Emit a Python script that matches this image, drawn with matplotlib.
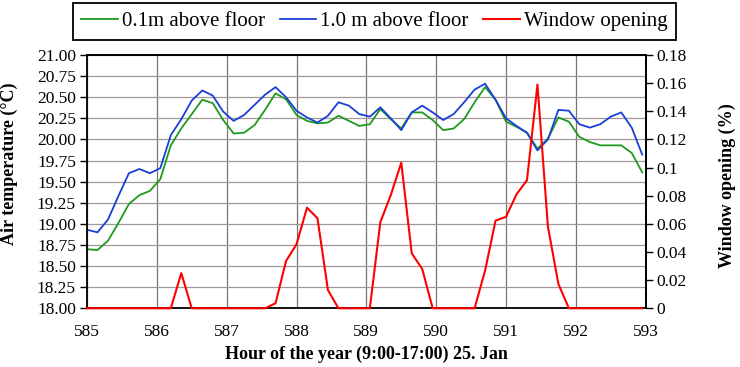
import matplotlib
matplotlib.use("Agg")
import matplotlib.pyplot as plt
from matplotlib.ticker import MultipleLocator, FuncFormatter

hours = [585.00, 585.15, 585.30, 585.45, 585.60, 585.75, 585.90, 586.05, 586.20, 586.35,
         586.50, 586.65, 586.80, 586.95, 587.10, 587.25, 587.40, 587.55, 587.70, 587.85,
         588.00, 588.15, 588.30, 588.45, 588.60, 588.75, 588.90, 589.05, 589.20, 589.35,
         589.50, 589.65, 589.80, 589.95, 590.10, 590.25, 590.40, 590.55, 590.70, 590.85,
         591.00, 591.15, 591.30, 591.45, 591.60, 591.75, 591.90, 592.05, 592.20, 592.35,
         592.50, 592.65, 592.80, 592.95]

t_high = [18.93, 18.90, 19.05, 19.33, 19.60, 19.65, 19.60, 19.66, 20.05, 20.24,
          20.46, 20.58, 20.52, 20.33, 20.22, 20.29, 20.41, 20.53, 20.62, 20.50,
          20.34, 20.26, 20.20, 20.28, 20.44, 20.40, 20.30, 20.27, 20.38, 20.25,
          20.11, 20.32, 20.40, 20.32, 20.23, 20.30, 20.44, 20.59, 20.66, 20.47,
          20.25, 20.16, 20.08, 19.87, 20.00, 20.35, 20.34, 20.18, 20.14, 20.18,
          20.27, 20.32, 20.14, 19.82]

t_low = [18.70, 18.69, 18.80, 19.01, 19.235, 19.34, 19.39, 19.53, 19.93, 20.13,
         20.30, 20.47, 20.43, 20.23, 20.07, 20.08, 20.17, 20.35, 20.546, 20.475,
         20.29, 20.22, 20.19, 20.20, 20.28, 20.22, 20.16, 20.18, 20.36, 20.24,
         20.13, 20.32, 20.32, 20.23, 20.11, 20.13, 20.24, 20.44, 20.62, 20.47,
         20.21, 20.15, 20.08, 19.89, 20.01, 20.26, 20.21, 20.03, 19.97, 19.93,
         19.93, 19.93, 19.84, 19.61]

window = [0, 0, 0, 0, 0, 0, 0, 0, 0, 0.025,
          0, 0, 0, 0, 0, 0, 0, 0, 0.0036, 0.0336,
          0.0455, 0.0715, 0.064, 0.013, 0, 0, 0, 0, 0.0611, 0.0805,
          0.1035, 0.039, 0.028, 0, 0, 0, 0, 0, 0.0268, 0.0623,
          0.065, 0.081, 0.091, 0.159, 0.058, 0.0173, 0, 0, 0, 0,
          0, 0, 0, 0]

labels = ["0.1m above floor", "1.0 m above floor", "Window opening"]

plt.rcParams['font.family'] = ['Liberation Serif', 'DejaVu Serif']

W, H = 740, 367
fig = plt.figure(figsize=(W / 100, H / 100), dpi=100)
L, R, T, B = 87, 645.7, 55, 308.3
ax = fig.add_axes([L / W, 1 - B / H, (R - L) / W, (B - T) / H])
ax2 = ax.twinx()

ax.set_xlim(585, 593)
ax.set_ylim(18, 21)
ax2.set_ylim(0, 0.18)

ax.yaxis.set_major_locator(MultipleLocator(0.25))
ax.yaxis.set_major_formatter(FuncFormatter(lambda v, p: f"{v:.2f}"))
ax.xaxis.set_major_locator(MultipleLocator(1))
ax.xaxis.set_major_formatter(FuncFormatter(lambda v, p: f"{v:.0f}"))
ax2.yaxis.set_major_locator(MultipleLocator(0.02))
ax2.yaxis.set_major_formatter(FuncFormatter(lambda v, p: f"{v:g}" if v > 1e-9 else "0"))

ax.grid(axis='y', color='#a39898', lw=0.9)
ax.grid(axis='x', color='#7d7272', lw=0.9)
ax.set_axisbelow(True)

l1, = ax.plot(hours, t_low, color='#1e9a1e', lw=1.3, label=labels[0])
l2, = ax.plot(hours, t_high, color='#1a3fd6', lw=1.3, label=labels[1])
l3, = ax2.plot(hours, window, color='#ff0000', lw=1.5, label=labels[2], clip_on=False)

for a in (ax, ax2):
    for s in a.spines.values():
        s.set_color('black')
        s.set_linewidth(1.3)
ax2.spines['bottom'].set_visible(False)
ax2.spines['left'].set_visible(False)

ax.tick_params(axis='y', direction='out', length=5, width=1, labelsize=12.5, pad=3)
ax.tick_params(axis='x', length=0, labelsize=12.5, pad=11)
ax2.tick_params(axis='y', direction='out', length=5, width=1, labelsize=12.5, pad=3)

ax.set_xlabel("Hour of the year (9:00-17:00) 25. Jan", fontsize=13, fontweight='bold')
ax.set_ylabel("Air temperature (°C)", fontsize=13, fontweight='bold')
ax2.set_ylabel("Window opening (%)", fontsize=13, fontweight='bold', rotation=90)
ax.xaxis.set_label_coords(0.5, -0.147)
ax.yaxis.set_label_coords(-0.123, 0.57)
ax2.yaxis.set_label_coords(1.131, 0.485)

leg = fig.legend([l1, l2, l3], labels, loc='center',
                 bbox_to_anchor=(374.5 / W, 1 - 21.5 / H), ncol=3, fontsize=15,
                 frameon=True, fancybox=False, edgecolor='black', framealpha=1,
                 handlelength=1.75, handletextpad=0.2, columnspacing=0.7,
                 borderpad=0.4, borderaxespad=0)
leg.get_frame().set_linewidth(1.3)

fig.savefig("out.png", dpi=100)
